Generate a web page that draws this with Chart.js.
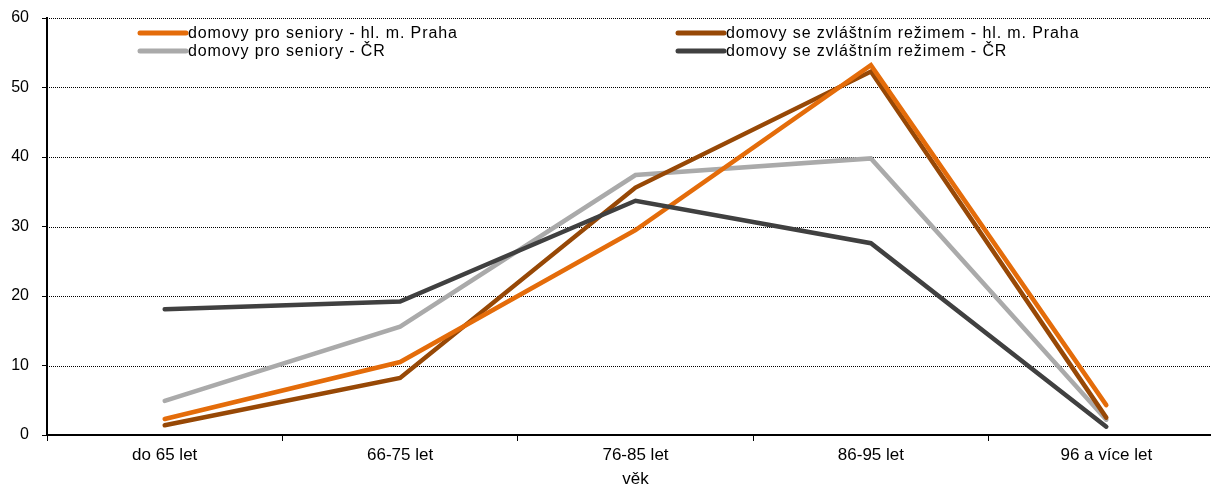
<!DOCTYPE html>
<html>
<head>
<meta charset="utf-8">
<script src="https://cdn.jsdelivr.net/npm/chart.js@4.4.0/dist/chart.umd.min.js"></script>
<style>
  html, body { margin: 0; padding: 0; background: #fff; overflow: hidden; }
  #wrap { width: 1226px; height: 490px; position: relative; }
</style>
</head>
<body>
<div id="wrap"><canvas id="myChart"></canvas></div>
<script>
// age groups on the x axis
const categories = ["do 65 let", "66-75 let", "76-85 let", "86-95 let", "96 a více let"];

// shares (%)
const seniorHomesPraha = [2.3, 10.5, 29.5, 53.2, 4.3];
const specialHomesPraha = [1.4, 8.2, 35.6, 52.3, 2.5];
const seniorHomesCR = [4.9, 15.6, 37.4, 39.8, 2.2];
const specialHomesCR = [18.1, 19.2, 33.7, 27.6, 1.2];

const seriesLabels = [
    "domovy pro seniory - hl. m. Praha",
    "domovy se zvláštním režimem - hl. m. Praha",
    "domovy pro seniory - ČR",
    "domovy se zvláštním režimem - ČR"
];
const yTicks = [0, 10, 20, 30, 40, 50, 60];

const FONT = "'Liberation Sans', Arial, sans-serif";

// legend in two columns like the original, drawn by hand
const legendPlugin = {
    id: 'twoColLegend',
    afterDraw(chart) {
        const ctx = chart.ctx;
        const cols = [140, 678];
        const rows = [33, 51];
        ctx.save();
        ctx.font = "16px " + FONT;
        ctx.letterSpacing = "0.9px";
        ctx.textBaseline = "middle";
        ctx.fillStyle = "#000";
        chart.data.datasets.forEach((ds, i) => {
            const x = cols[i % 2];
            const y = rows[Math.floor(i / 2)];
            ctx.strokeStyle = ds.borderColor;
            ctx.lineWidth = 5;
            ctx.lineCap = "round";
            ctx.beginPath();
            ctx.moveTo(x, y);
            ctx.lineTo(x + 46, y);
            ctx.stroke();
            ctx.fillText(ds.label, x + 48, y + 1);
        });
        ctx.restore();
    }
};

// dotted grid lines drawn by hand so the axes stay solid
const dottedGrid = {
    id: 'dottedGrid',
    beforeDatasetsDraw(chart) {
        const ctx = chart.ctx;
        const y = chart.scales.y;
        const area = chart.chartArea;
        ctx.save();
        ctx.strokeStyle = "#000";
        ctx.lineWidth = 1;
        ctx.setLineDash([1, 1]);
        y.ticks.forEach(t => {
            if (t.value === 0) return;
            const py = Math.round(y.getPixelForValue(t.value)) + 0.5;
            ctx.beginPath();
            ctx.moveTo(area.left, py);
            ctx.lineTo(area.right, py);
            ctx.stroke();
        });
        ctx.restore();
    }
};

function line(label, data, color, order) {
    return {
        label: label,
        data: data,
        borderColor: color,
        backgroundColor: color,
        borderWidth: 4.5,
        pointRadius: 0,
        tension: 0,
        borderCapStyle: 'round',
        order: order
    };
}

new Chart(document.getElementById("myChart").getContext("2d"), {
    type: "line",
    data: {
        labels: categories,
        datasets: [
            line(seriesLabels[0], seniorHomesPraha, "#E46C0A", 2),
            line(seriesLabels[1], specialHomesPraha, "#974806", 3),
            line(seriesLabels[2], seniorHomesCR, "#AAAAAA", 4),
            line(seriesLabels[3], specialHomesCR, "#404040", 1)
        ]
    },
    options: {
        responsive: true,
        maintainAspectRatio: false,
        animation: false,
        layout: { padding: { top: 18, right: 2, left: 0, bottom: 0 } },
        plugins: {
            legend: { display: false },
            tooltip: { enabled: false }
        },
        scales: {
            x: {
                offset: true,
                afterFit: (s) => { s.height = 55; s.paddingLeft = 0; s.paddingRight = 0; },
                grid: {
                    offset: true,
                    drawOnChartArea: false,
                    drawTicks: true,
                    tickLength: 6,
                    color: "#000",
                    lineWidth: 1
                },
                border: { color: "#000", width: 2 },
                ticks: {
                    color: "#000",
                    font: { family: FONT, size: 17 },
                    padding: 4,
                    maxRotation: 0
                },
                title: {
                    display: true,
                    text: "věk",
                    color: "#000",
                    font: { family: FONT, size: 17 },
                    padding: { top: 0, bottom: 0 }
                }
            },
            y: {
                min: 0,
                max: 60,
                afterFit: (s) => { s.width = 47; s.paddingTop = 0; s.paddingBottom = 0; },
                afterBuildTicks: (s) => { s.ticks = yTicks.map(v => ({ value: v })); },
                grid: {
                    drawOnChartArea: false,
                    drawTicks: true,
                    tickLength: 5,
                    color: "#000",
                    lineWidth: 1
                },
                border: { color: "#000", width: 2 },
                ticks: {
                    color: "#000",
                    font: { family: FONT, size: 16 },
                    padding: 13
                }
            }
        }
    },
    plugins: [dottedGrid, legendPlugin]
});
</script>
</body>
</html>
